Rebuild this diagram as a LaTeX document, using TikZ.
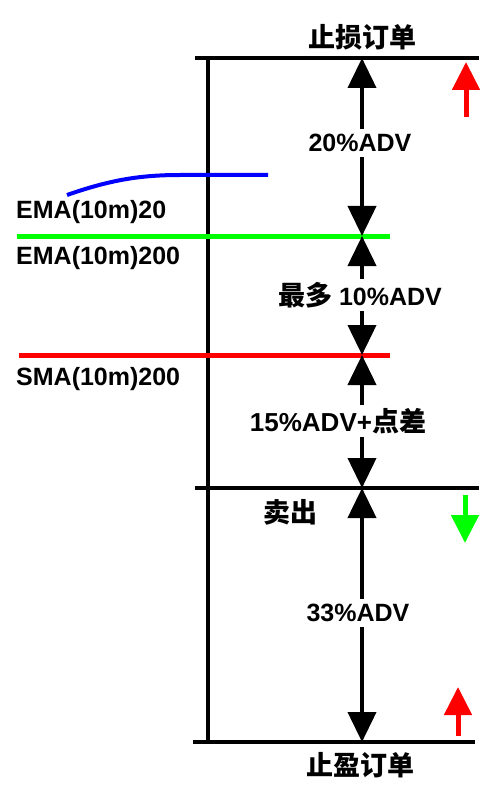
\documentclass[tikz,border=0pt]{standalone}
\usepackage{fontspec}
\setmainfont{Liberation Sans}
\newfontfamily\cjk{Noto Sans CJK SC}
\usetikzlibrary{arrows.meta}
\definecolor{brightgreen}{RGB}{0,255,0}
\definecolor{brightred}{RGB}{255,0,0}
\definecolor{brightblue}{RGB}{0,0,255}
\newcommand{\zh}[1]{{\cjk\fontsize{27}{30}\selectfont\bfseries #1}}
\begin{document}
\begin{tikzpicture}[x=1pt,y=-1pt,
  blk/.style={line width=4pt,black},
  arr/.style={line width=4pt,black,-{Triangle[width=28pt,length=30pt]}},
  carr/.style={line width=5pt,-{Triangle[width=27pt,length=28pt]}},
  lbl/.style={font=\fontsize{25}{30}\selectfont\bfseries,inner sep=5pt},
  ma/.style={font=\fontsize{25}{28}\selectfont\bfseries,anchor=west,inner sep=0pt},
  ttl/.style={inner sep=2pt}]
\useasboundingbox (0,0) rectangle (479,786);
% named points
\coordinate (TL) at (195,58);  \coordinate (TR) at (479,58);
\coordinate (VT) at (208,58);  \coordinate (VB) at (208,742);
\coordinate (SL) at (195,488); \coordinate (SR) at (479,488);
\coordinate (BL) at (193,742); \coordinate (BR) at (475,742);
\coordinate (GL) at (17,236);  \coordinate (GR) at (390,236);
\coordinate (RL) at (19,355);  \coordinate (RR) at (390,355);
\coordinate (T) at (362,58);   \coordinate (G) at (362,236);
\coordinate (R) at (362,355);  \coordinate (S) at (362,488);
\coordinate (B) at (362,742);
\coordinate (EA) at (67,195);  \coordinate (EB) at (180,175); \coordinate (EC) at (268,175);
\coordinate (ra1) at (466,117); \coordinate (ra2) at (466,62);
\coordinate (ga1) at (465,495); \coordinate (ga2) at (465,543);
\coordinate (rb1) at (458,736); \coordinate (rb2) at (458,687);
% black frame lines
\draw[blk] (TL) -- (TR);
\draw[blk] (VT) -- (VB);
\draw[blk] (SL) -- (SR);
\draw[blk] (BL) -- (BR);
% moving averages
\draw[line width=4pt,brightblue] (EA) .. controls (110,180) and (140,175) .. (EB) -- (EC);
\draw[line width=5pt,brightgreen] (GL) -- (GR);
\draw[line width=5pt,brightred] (RL) -- (RR);
% titles
\node[ttl] (stop) at (362,37) {\zh{止损订单}};
\node[ttl] (take) at (360,765) {\zh{止盈订单}};
\node[ttl] (sell) at (290,512) {\zh{卖出}};
% MA labels
\node[ma] (ema20) at (16,212) {EMA(10m)20};
\node[ma] (ema200) at (16,258) {EMA(10m)200};
\node[ma] (sma200) at (16,379) {SMA(10m)200};
% distance labels and arrows
\node[lbl] (a20) at (360,143) {20\%ADV};
\draw[arr] (a20.north -| T) -- (T);
\draw[arr] (a20.south -| T) -- (G);
\node[lbl,inner sep=3pt] (a10) at (360,295) {\zh{最多} 10\%ADV};
\draw[arr] (a10.north -| G) -- (G);
\draw[arr] (a10.south -| G) -- (R);
\node[lbl,inner sep=3pt] (a15) at (338,421) {\fontsize{26}{30}\selectfont 15\%ADV+\zh{点差}};
\draw[arr] (a15.north -| R) -- (R);
\draw[arr] (a15.south -| R) -- (S);
\node[lbl] (a33) at (358,613) {33\%ADV};
\draw[arr] (a33.north -| S) -- (S);
\draw[arr] (a33.south -| S) -- (B);
% coloured direction arrows
\draw[carr,brightred] (ra1) -- (ra2);
\draw[carr,brightgreen] (ga1) -- (ga2);
\draw[carr,brightred] (rb1) -- (rb2);
\end{tikzpicture}
\end{document}
